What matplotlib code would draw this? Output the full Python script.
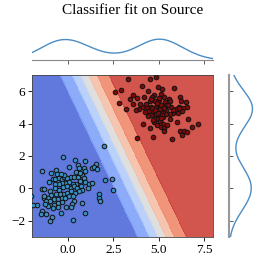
import matplotlib
matplotlib.use("Agg")
import matplotlib.pyplot as plt
import numpy as np

plt.rcParams['font.family'] = ['Liberation Serif', 'DejaVu Serif']
plt.rcParams['mathtext.fontset'] = 'stix'

# source samples, class 0 (blue) and class 1 (red)
blue_x = [1.98, -0.26, 0.35, 0.94, -1.46, 0.04, 0.52, 0.85, 0.57, 1.30, 1.54, 1.41, 1.59,
          -0.94, -0.65, -0.61, -0.83, -0.72, -0.52, -0.32, -0.24, -0.04, 0.15, 0.31, 0.52,
          0.74, 0.85, 0.91, 0.65, 0.44, 0.26, 0.04, -0.17, -0.35, -0.52, -0.72, 1.13, 1.32,
          1.09, 2.02, 2.41, 2.48, -1.46, -1.31, -0.98, -0.72, -0.50, -0.26, -0.06, 0.15,
          0.31, 0.50, 0.70, 0.78, 0.59, 0.39, 0.13, -0.06, -0.26, -0.44, -0.68, -0.94,
          -1.09, -1.35, -1.22, -1.00, -0.80, -0.57, -0.37, -0.17, 0.06, 0.28, 1.68, 1.72,
          1.74, 0.74, 0.33, 0.20, 0.13, -0.13, -0.37, -0.59, -0.78, -0.56, -0.39, -0.82,
          -1.09, -1.28, -1.74, -1.94, -1.43, -1.48, -1.22, -0.91, -0.98, 0.94, 0.26, -2.05,
          0.91, 0.43, 0.65, -0.22, -0.39, -1.06, -1.33]
blue_y = [2.63, 1.95, 1.78, 1.70, 1.05, 1.35, 1.42, 1.29, 1.23, 1.29, 1.50, 1.33, 1.17,
          0.94, 1.13, 0.86, 0.60, 0.60, 0.66, 0.60, 0.68, 0.66, 0.70, 0.72, 0.68,
          0.80, 0.64, 0.41, 0.43, 0.27, 0.29, 0.39, 0.31, 0.35, 0.27, 0.27, 0.27, 0.31,
          0.02, 0.51, 0.60, -0.12, -0.02, -0.02, -0.18, 0.02, -0.08, 0.06, 0.12, 0.04,
          0.16, 0.02, 0.12, -0.12, -0.18, -0.27, -0.18, -0.27, -0.33, -0.33, -0.33, -0.39,
          -0.60, -0.58, -0.76, -0.76, -0.64, -0.64, -0.60, -0.58, -0.45, -0.47, -0.37, -0.58,
          -0.80, -0.90, -0.78, -0.98, -1.17, -1.17, -0.86, -0.92, -1.05, -1.15, -1.54, -1.21,
          -1.09, -0.98, -1.02, -1.04, -1.42, -1.60, -1.60, -1.76, -2.03, -1.50, -1.97, -0.45,
          1.05, 1.00, 0.97, 0.84, 0.88, 0.39, -0.45]

red_x = [3.30, 4.50, 4.83, 2.61, 2.93, 4.09, 4.43, 4.96, 5.18, 5.85, 3.56, 3.82, 4.18,
         4.72, 5.11, 5.30, 5.57, 6.17, 2.78, 3.57, 4.50, 4.78, 5.02, 5.35, 5.63, 6.21,
         6.50, 6.54, 3.20, 3.91, 4.15, 4.37, 4.59, 4.87, 5.17, 5.39, 5.69, 5.94, 6.35,
         4.44, 4.69, 4.91, 5.11, 5.43, 5.79, 6.06, 6.28, 5.65, 4.79, 5.00, 5.24, 4.94,
         5.07, 4.13, 5.24, 5.11, 5.30, 6.02, 6.83, 7.17, 6.18, 6.39, 6.57, 6.26, 4.71,
         5.76, 3.80, 5.30, 4.74, 3.94, 4.31, 4.63, 5.50, 5.81, 6.13, 4.56, 5.39, 4.91,
         4.50, 6.10, 3.76, 4.65, 5.05, 4.85, 5.20, 4.40, 4.95, 5.60, 4.25, 5.45, 4.60,
         3.40, 6.60, 4.80, 5.10, 4.98, 5.28, 4.88, 5.15, 5.02, 4.70]
red_y = [6.77, 6.73, 6.85, 5.97, 6.09, 6.34, 5.99, 6.26, 6.13, 6.17, 5.74, 5.58, 5.64,
         5.74, 5.85, 5.66, 5.54, 5.66, 5.29, 5.21, 5.37, 5.41, 5.46, 5.33, 5.37, 5.37,
         5.33, 5.05, 4.92, 4.92, 5.00, 5.05, 5.00, 5.05, 5.03, 5.13, 5.00, 4.88, 4.96,
         4.76, 4.76, 4.80, 4.72, 4.84, 4.64, 4.64, 4.76, 4.60, 4.51, 4.43, 4.39, 4.27,
         4.14, 3.98, 4.00, 3.77, 3.73, 4.10, 3.82, 3.98, 3.57, 3.57, 3.49, 3.32, 3.20,
         3.06, 3.12, 3.57, 4.10, 5.21, 5.23, 5.66, 5.17, 4.82, 5.05, 4.55, 4.60, 3.94,
         3.73, 4.96, 4.87, 4.95, 4.90, 4.60, 4.55, 4.45, 5.20, 4.30, 4.70, 3.90, 5.50,
         5.50, 4.30, 4.85, 5.15, 4.68, 4.95, 5.30, 4.35, 5.55, 4.20]

# linear classifier (logistic)
coef = [1.33, 0.57]
intercept = -5.2

xlim = (-2, 8)
ylim = (-3, 7)
xticks = [0.0, 2.5, 5.0, 7.5]
yticks = [-2, 0, 2, 4, 6]


def kde(vals, grid):
    vals = np.asarray(vals)
    bw = vals.std(ddof=1) * len(vals) ** (-1 / 5)
    d = (grid[:, None] - vals[None, :]) / bw
    return np.exp(-0.5 * d ** 2).sum(1) / (len(vals) * bw * np.sqrt(2 * np.pi))


fig = plt.figure(figsize=(2.66, 2.66), dpi=100)
W = 266.0
ax = fig.add_axes([32 / W, 1 - 237 / W, 181 / W, 162 / W])
ax_top = fig.add_axes([32 / W, 1 - 60 / W, 181 / W, 25 / W])
ax_right = fig.add_axes([229 / W, 1 - 237 / W, 27 / W, 162 / W])

gx, gy = np.meshgrid(np.linspace(xlim[0], xlim[1], 300), np.linspace(ylim[0], ylim[1], 300))
prob = 1 / (1 + np.exp(-(coef[0] * gx + coef[1] * gy + intercept)))
ax.contourf(gx, gy, prob, levels=np.linspace(0, 1, 8), cmap='coolwarm', alpha=0.9)

ax.scatter(blue_x, blue_y, s=11, c='#3a90c0', edgecolors='#111111', linewidths=0.7, zorder=3)
ax.scatter(red_x, red_y, s=11, c='#7e0a0a', edgecolors='#111111', linewidths=0.7, zorder=3)
ax.set_xlim(*xlim)
ax.set_ylim(*ylim)
ax.set_xticks(xticks)
ax.set_yticks(yticks)
ax.tick_params(labelsize=9.5, length=3, width=0.6, pad=2)
for s in ax.spines.values():
    s.set_linewidth(0.6)
    s.set_color('#444444')

all_x = np.r_[blue_x, red_x]
all_y = np.r_[blue_y, red_y]

xs = np.linspace(xlim[0], xlim[1], 300)
dx = kde(all_x, xs)
ax_top.plot(xs, dx, color='#4c8cc4', lw=1)
ax_top.set_xlim(*xlim)
ax_top.set_ylim(0, dx.max() * 1.2)
ax_top.set_xticks(xticks)
ax_top.set_xticklabels([])
ax_top.set_yticks([])
for k in ['top', 'right', 'left']:
    ax_top.spines[k].set_visible(False)
ax_top.spines['bottom'].set_color('#888888')
ax_top.tick_params(length=3, width=0.6, color='#444444')

ys = np.linspace(ylim[0], ylim[1], 300)
dy = kde(all_y, ys)
ax_right.plot(dy, ys, color='#4c8cc4', lw=1)
ax_right.set_ylim(*ylim)
ax_right.set_xlim(0, dy.max() * 1.15)
ax_right.set_yticks(yticks)
ax_right.set_yticklabels([])
ax_right.set_xticks([])
for k in ['top', 'right', 'bottom']:
    ax_right.spines[k].set_visible(False)
ax_right.spines['left'].set_color('#999999')
ax_right.spines['left'].set_linewidth(1.5)
ax_right.tick_params(axis='y', direction='in', length=3, width=0.6, color='#444444')

fig.suptitle('Classifier fit on Source', y=1 - 4 / W, va='top', fontsize=11)

fig.savefig('out.png', dpi=100)
